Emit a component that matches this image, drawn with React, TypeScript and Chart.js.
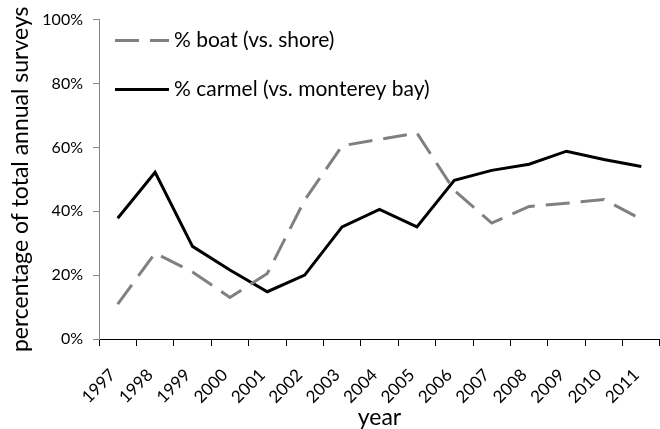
import React, { useEffect, useRef } from "react";
import { Chart, registerables } from "chart.js";

Chart.register(...registerables);

const years = ["1997", "1998", "1999", "2000", "2001", "2002", "2003", "2004", "2005", "2006", "2007", "2008", "2009", "2010", "2011"];
const boatPct = [10.9, 26.9, 21, 13, 20.5, 43.5, 60.5, 62.5, 64.5, 46.5, 36.3, 41.5, 42.5, 43.7, 37.5];
const carmelPct = [37.8, 52.2, 29, 21.6, 14.8, 20, 35.1, 40.6, 35.1, 49.7, 52.8, 54.7, 58.8, 56.2, 54];
const seriesLabels = ["% boat (vs. shore)", "% carmel (vs. monterey bay)"];
const yTickValues = [0, 20, 40, 60, 80, 100];

const FONT = "Lato";
const AXIS_GRAY = "#868686";

const legendPlugin = {
  id: "insideLegend",
  afterDraw(chart: any) {
    const { ctx, chartArea } = chart;
    ctx.save();
    chart.data.datasets.forEach((ds: any, i: number) => {
      const y = chartArea.top + 21 + i * 49;
      const x0 = chartArea.left + 16;
      const x1 = x0 + 54;
      ctx.beginPath();
      ctx.strokeStyle = ds.borderColor;
      ctx.lineWidth = ds.borderWidth;
      ctx.setLineDash(ds.borderDash || []);
      ctx.moveTo(x0, y);
      ctx.lineTo(x1, y);
      ctx.stroke();
      ctx.setLineDash([]);
      ctx.fillStyle = "#000";
      ctx.font = `21px ${FONT}`;
      ctx.textBaseline = "middle";
      ctx.textAlign = "left";
      ctx.fillText(ds.label, x1 + 5, y);
    });
    ctx.restore();
  },
};

export default function App() {
  const ref = useRef<HTMLCanvasElement>(null);
  useEffect(() => {
    if (!ref.current) return;
    const chart = new Chart(ref.current, {
      type: "line",
      data: {
        labels: years,
        datasets: [
          {
            label: seriesLabels[0],
            data: boatPct,
            borderColor: "#808080",
            borderWidth: 3,
            borderDash: [24, 11],
            pointRadius: 0,
            tension: 0,
            fill: false,
          },
          {
            label: seriesLabels[1],
            data: carmelPct,
            borderColor: "#000000",
            borderWidth: 3,
            pointRadius: 0,
            tension: 0,
            fill: false,
          },
        ],
      },
      options: {
        animation: false,
        responsive: true,
        maintainAspectRatio: false,
        devicePixelRatio: 1,
        layout: { padding: { top: 19, right: 0, bottom: 0, left: 0 } },
        plugins: { legend: { display: false }, tooltip: { enabled: false } },
        scales: {
          x: {
            offset: true,
            grid: { offset: true, drawOnChartArea: false, drawTicks: true, tickLength: 7, color: "#000", tickColor: "#000" },
            border: { color: "#000", width: 1 },
            ticks: { minRotation: 45, maxRotation: 45, autoSkip: false, color: "#000", font: { family: FONT, size: 17 }, padding: 19, labelOffset: -5 },
            title: { display: true, text: "year", color: "#000", font: { family: FONT, size: 23 }, padding: { top: 0, bottom: -2 } },
            afterFit: (s: any) => { s.height = 90; s.paddingRight = 0; s.paddingLeft = 0; },
          },
          y: {
            min: 0,
            max: 100,
            afterBuildTicks: (s: any) => { s.ticks = yTickValues.map((v) => ({ value: v })); },
            grid: { drawOnChartArea: false, drawTicks: true, tickLength: 6, color: AXIS_GRAY, tickColor: AXIS_GRAY },
            border: { color: AXIS_GRAY, width: 1 },
            ticks: { color: "#000", font: { family: FONT, size: 16 }, padding: 10, callback: (v: any) => `${v}%` },
            title: { display: true, text: "percentage of total annual surveys", color: "#000", font: { family: FONT, size: 23 }, padding: { top: 7, bottom: 0 } },
            afterFit: (s: any) => { s.width = 99; },
          },
        },
      },
      plugins: [legendPlugin],
    });
    return () => chart.destroy();
  }, []);
  return (
    <div style={{ position: "fixed", left: 0, top: 0, width: 660, height: 429, background: "#fff" }}>
      <canvas ref={ref} />
    </div>
  );
}
